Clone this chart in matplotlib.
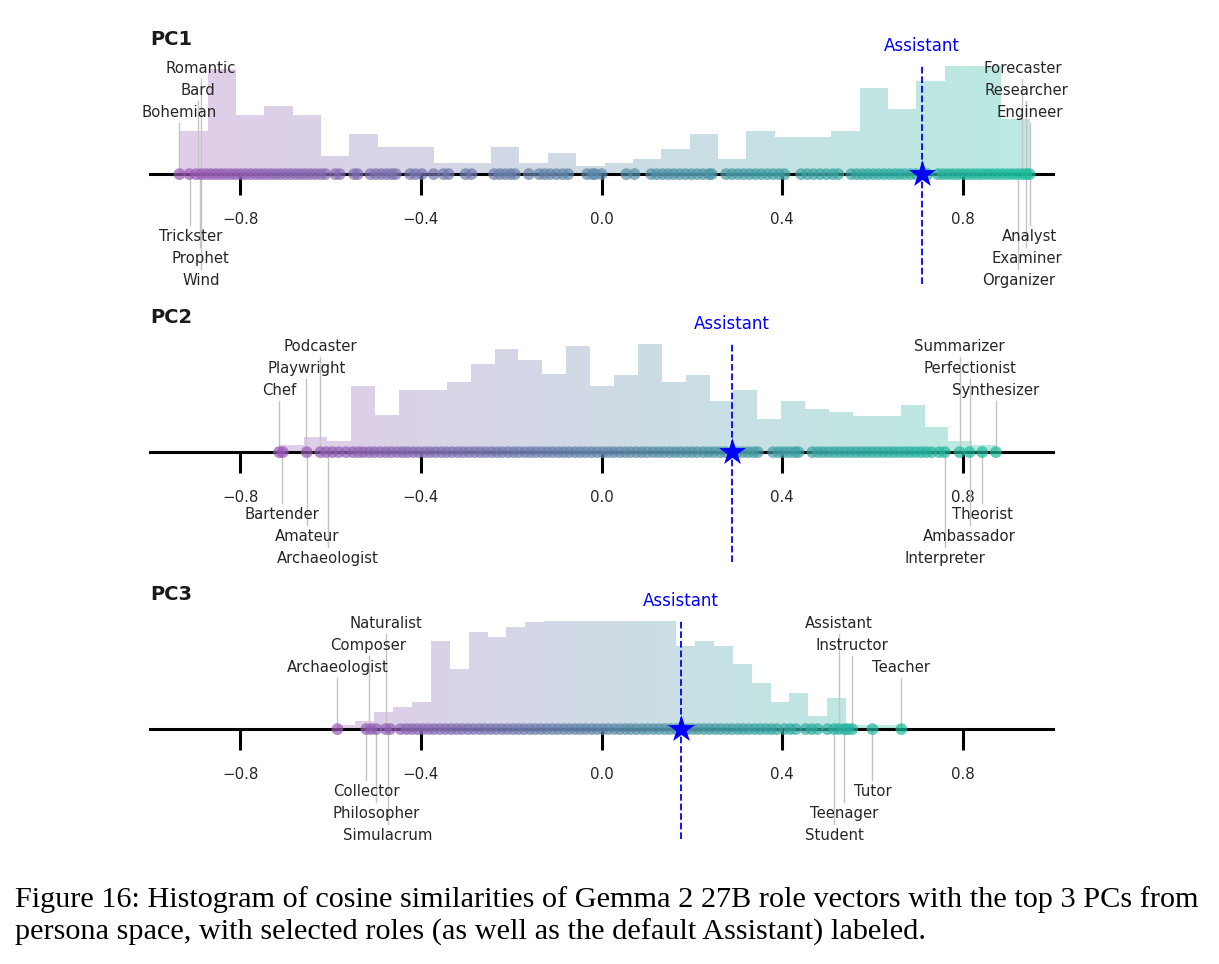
import numpy as np
import matplotlib.pyplot as plt
from matplotlib.colors import LinearSegmentedColormap, Normalize

plt.rcParams["font.family"] = "DejaVu Sans"

# ---- data ----
# histogram: first/last bin edge and 30 bar heights per PC
pc1_range = (-0.935, 0.948)
pc1_counts = [11.9, 29.2, 16.3, 18.8, 16.3, 5.1, 11.1, 7.5, 7.5, 3.2,
              3.2, 7.5, 3.2, 5.9, 2.3, 3.2, 4.2, 6.9, 11.1, 4.2,
              11.9, 10.3, 10.3, 11.9, 23.9, 18.0, 25.8, 33.0, 32.0, 15.3]
pc2_range = (-0.713, 0.874)
pc2_counts = [1.9, 4.1, 3.1, 18.3, 10.2, 17.2, 17.2, 19.4, 24.4, 28.6,
              25.6, 21.6, 29.5, 18.3, 21.4, 30.0, 19.4, 21.4, 14.2, 17.2,
              9.1, 14.2, 12.1, 11.1, 10.1, 10.1, 13.1, 6.9, 3.1, 1.9]
pc3_range = (-0.587, 0.667)
pc3_counts = [1.1, 2.3, 4.7, 6.2, 7.5, 24.4, 16.6, 26.9, 25.6, 28.3,
              29.6, 32.0, 34.0, 35.0, 33.0, 36.0, 34.0, 31.0, 23.1, 24.4,
              23.1, 18.1, 12.9, 7.6, 10.1, 3.6, 8.7, 1.1, 1.1, 1.1]

# role positions (cosine similarity) shown as dots
pc1_roles = [-0.935, -0.913, -0.898, -0.887, -0.876, -0.865, -0.854, -0.843, -0.832, -0.821,
             -0.810, -0.799, -0.788, -0.777, -0.766, -0.755, -0.744, -0.733, -0.722, -0.711,
             -0.700, -0.689, -0.678, -0.667, -0.656, -0.645, -0.634, -0.622, -0.612, -0.590,
             -0.580, -0.548, -0.540, -0.512, -0.500, -0.488, -0.476, -0.465, -0.456, -0.424,
             -0.412, -0.398, -0.372, -0.350, -0.339, -0.301, -0.288, -0.238, -0.226, -0.214,
             -0.202, -0.192, -0.161, -0.138, -0.126, -0.114, -0.100, -0.086, -0.074, -0.032,
             -0.020, -0.014, 0.000, 0.055, 0.073, 0.110, 0.122, 0.135, 0.148, 0.160,
             0.173, 0.186, 0.199, 0.212, 0.225, 0.238, 0.244, 0.276, 0.289, 0.302,
             0.315, 0.328, 0.341, 0.354, 0.367, 0.380, 0.393, 0.405, 0.442, 0.456,
             0.470, 0.484, 0.498, 0.512, 0.524, 0.553, 0.565, 0.577, 0.589, 0.601,
             0.613, 0.625, 0.637, 0.649, 0.660, 0.671, 0.684, 0.696, 0.722, 0.745,
             0.756, 0.767, 0.778, 0.789, 0.800, 0.811, 0.822, 0.833, 0.844, 0.855,
             0.866, 0.877, 0.888, 0.899, 0.910, 0.921, 0.932, 0.941, 0.948]
pc2_roles = [-0.714, -0.706, -0.653, -0.623, -0.610, -0.596, -0.582, -0.566, -0.551, -0.539,
             -0.528, -0.515, -0.503, -0.490, -0.478, -0.466, -0.453, -0.441, -0.430, -0.417,
             -0.405, -0.392, -0.380, -0.368, -0.355, -0.343, -0.331, -0.318, -0.306, -0.294,
             -0.281, -0.269, -0.257, -0.244, -0.232, -0.220, -0.207, -0.195, -0.183, -0.170,
             -0.158, -0.146, -0.133, -0.121, -0.109, -0.096, -0.084, -0.072, -0.059, -0.047,
             -0.035, -0.022, -0.010, 0.003, 0.015, 0.027, 0.040, 0.052, 0.064, 0.077,
             0.089, 0.101, 0.114, 0.126, 0.138, 0.151, 0.163, 0.175, 0.188, 0.200,
             0.212, 0.225, 0.237, 0.249, 0.262, 0.274, 0.300, 0.312, 0.324, 0.336,
             0.346, 0.380, 0.392, 0.404, 0.416, 0.428, 0.436, 0.467, 0.479, 0.491,
             0.503, 0.515, 0.527, 0.539, 0.551, 0.563, 0.575, 0.587, 0.599, 0.611,
             0.623, 0.635, 0.647, 0.659, 0.671, 0.683, 0.695, 0.707, 0.719, 0.731,
             0.748, 0.760, 0.793, 0.815, 0.843, 0.873]
pc3_roles = [-0.585, -0.521, -0.510, -0.499, -0.478, -0.468, -0.445, -0.432, -0.420, -0.408,
             -0.396, -0.383, -0.371, -0.358, -0.346, -0.333, -0.321, -0.309, -0.296, -0.284,
             -0.271, -0.259, -0.246, -0.234, -0.221, -0.209, -0.196, -0.184, -0.172, -0.159,
             -0.147, -0.134, -0.122, -0.109, -0.097, -0.084, -0.072, -0.059, -0.047, -0.035,
             -0.022, -0.010, 0.003, 0.015, 0.028, 0.040, 0.053, 0.065, 0.077, 0.090,
             0.102, 0.115, 0.127, 0.140, 0.152, 0.165, 0.190, 0.202, 0.214, 0.227,
             0.239, 0.252, 0.264, 0.277, 0.289, 0.302, 0.314, 0.326, 0.339, 0.351,
             0.364, 0.376, 0.388, 0.405, 0.418, 0.430, 0.452, 0.465, 0.478, 0.500,
             0.515, 0.526, 0.538, 0.545, 0.555, 0.600, 0.664]

# default Assistant position
pc1_assistant = 0.709
pc2_assistant = 0.288
pc3_assistant = 0.176

# labelled roles: three above the axis, three below, for each end
pc1_above = [("Romantic", -0.888), ("Bard", -0.893), ("Bohemian", -0.935),
             ("Forecaster", 0.932), ("Researcher", 0.941), ("Engineer", 0.948)]
pc1_below = [("Trickster", -0.911), ("Prophet", -0.889), ("Wind", -0.887),
             ("Analyst", 0.948), ("Examiner", 0.941), ("Organizer", 0.923)]
pc2_above = [("Podcaster", -0.623), ("Playwright", -0.654), ("Chef", -0.714),
             ("Summarizer", 0.793), ("Perfectionist", 0.817), ("Synthesizer", 0.873)]
pc2_below = [("Bartender", -0.707), ("Amateur", -0.652), ("Archaeologist", -0.606),
             ("Theorist", 0.843), ("Ambassador", 0.815), ("Interpreter", 0.760)]
pc3_above = [("Naturalist", -0.478), ("Composer", -0.516), ("Archaeologist", -0.585),
             ("Assistant", 0.526), ("Instructor", 0.555), ("Teacher", 0.664)]
pc3_below = [("Collector", -0.521), ("Philosopher", -0.499), ("Simulacrum", -0.473),
             ("Tutor", 0.600), ("Teenager", 0.538), ("Student", 0.515)]

xticks = [-0.8, -0.4, 0.0, 0.4, 0.8]
caption = ["Figure 16: Histogram of cosine similarities of Gemma 2 27B role vectors with the top 3 PCs from",
           "persona space, with selected roles (as well as the default Assistant) labeled."]

# ---- figure ----
cmap = LinearSegmentedColormap.from_list("pg", ["#9b59b6", "#1abc9c"])
txt = "#262626"
top = 30.0
rows = [29.4, 23.3, 17.2]

fig = plt.figure(figsize=(12.19, 9.64), dpi=100)

panels = [
    ("PC1", pc1_range, pc1_counts, pc1_roles, pc1_assistant, pc1_above, pc1_below, 0.7054),
    ("PC2", pc2_range, pc2_counts, pc2_roles, pc2_assistant, pc2_above, pc2_below, 0.4170),
    ("PC3", pc3_range, pc3_counts, pc3_roles, pc3_assistant, pc3_above, pc3_below, 0.1297),
]

for name, rng, counts, roles, asst, above, below, bottom in panels:
    ax = fig.add_axes([0.1231, bottom, 0.7408, 0.2261])
    norm = Normalize(min(roles), max(roles))

    edges = np.linspace(rng[0], rng[1], len(counts) + 1)
    centers = (edges[:-1] + edges[1:]) / 2
    ax.bar(centers, counts, width=edges[1] - edges[0], color=cmap(norm(centers)),
           alpha=0.3, linewidth=0, zorder=1)

    ax.scatter(roles, np.zeros(len(roles)), s=72, c=cmap(norm(np.array(roles))),
               alpha=0.7, linewidths=0, zorder=3)

    # labelled roles
    for i, (lab, v) in enumerate(above):
        y = rows[i % 3]
        ax.plot([v, v], [0, y - 3.1], color="#c4c4c4", lw=1.0, zorder=2)
        ax.text(v, y, lab, ha="center", va="center", fontsize=10.7, color=txt)
    for i, (lab, v) in enumerate(below):
        y = -rows[2 - i % 3]
        ax.plot([v, v], [0, y + 3.1], color="#c4c4c4", lw=1.0, zorder=2)
        ax.text(v, y, lab, ha="center", va="center", fontsize=10.7, color=txt)

    # Assistant
    ax.axvline(asst, color="blue", lw=1.3, ls="--", zorder=4)
    ax.scatter([asst], [0], marker="*", s=420, color="blue", linewidths=0, zorder=5)
    ax.text(asst, 35.5, "Assistant", ha="center", va="center", fontsize=12, color="blue")

    ax.text(-1.0, 37.3, name, ha="left", va="center", fontsize=14, fontweight="bold", color="#1a1a1a")

    ax.set_xlim(-1, 1)
    ax.set_ylim(-30.5, top)
    ax.spines["bottom"].set_position(("data", 0))
    ax.spines["bottom"].set_linewidth(2.2)
    ax.spines["bottom"].set_color("black")
    ax.spines["bottom"].set_zorder(2.5)
    for s in ["top", "left", "right"]:
        ax.spines[s].set_visible(False)
    ax.set_yticks([])
    ax.set_xticks(xticks)
    ax.set_xticklabels([f"{t:.1f}".replace("-", "\u2212") for t in xticks])
    ax.tick_params(axis="x", direction="out", length=15, width=2.2, pad=12,
                   labelsize=10.8, labelcolor=txt, color="black")
    ax.patch.set_visible(False)

fig.text(15 / 1219, 1 - 900 / 964, caption[0], fontsize=21.8, family="Liberation Serif",
         va="center", ha="left")
fig.text(15 / 1219, 1 - 932 / 964, caption[1], fontsize=21.8, family="Liberation Serif",
         va="center", ha="left")

fig.savefig("out.png", dpi=100)
